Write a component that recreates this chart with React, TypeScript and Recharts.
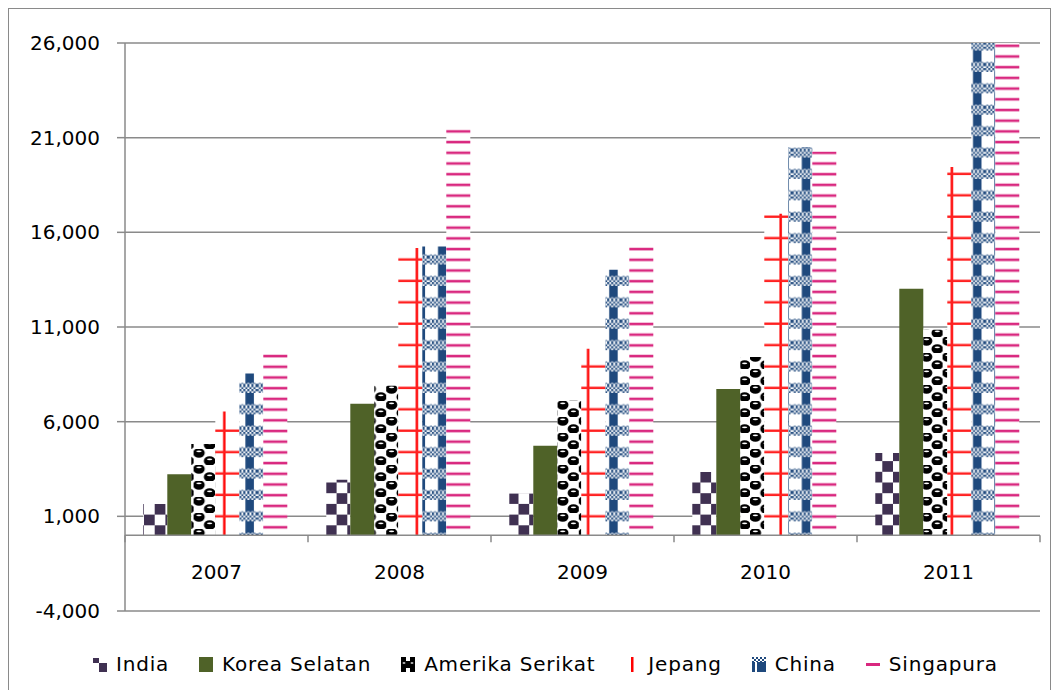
import React from 'react'
import { BarChart, Bar, XAxis, YAxis, CartesianGrid, ReferenceLine } from 'recharts'

// values
const years = ['2007', '2008', '2009', '2010', '2011']
const india = [1650, 2930, 2200, 3340, 4350]
const koreaSelatan = [3220, 6950, 4730, 7730, 13020]
const amerikaSerikat = [4820, 7900, 7100, 9420, 10860]
const jepang = [6540, 15170, 9850, 16980, 19450]
const china = [8550, 15250, 14020, 20500, 26000]
const singapura = [9590, 21450, 15310, 20270, 26000]
const yTicks = [-4000, 1000, 6000, 11000, 16000, 21000, 26000]

const seriesNames = ['India', 'Korea Selatan', 'Amerika Serikat', 'Jepang', 'China', 'Singapura']
const seriesValues = [india, koreaSelatan, amerikaSerikat, jepang, china, singapura]
const seriesFills = ['url(#pIndia)', '#4F6228', 'url(#pAmerika)', 'url(#pJepang)', 'url(#pChina)', 'url(#pSing)']

const data = years.map((year, i) => {
  const row: Record<string, string | number> = { year }
  seriesNames.forEach((name, s) => {
    row[name] = seriesValues[s][i]
  })
  return row
})

const W = 1060
const H = 698
const TOP = 43
const PLOT_H = 568
const PLOT_W = 915
const Y_MIN = -4000
const Y_MAX = 26000
const zeroY = TOP + (PLOT_H * Y_MAX) / (Y_MAX - Y_MIN)
const GRID = '#8a8a8a'
const FONT = "'DejaVu Sans', sans-serif"

// pattern tile sizes
const T = 21.4
const HT = 10.7

function Patterns() {
  return (
    <svg width={0} height={0} style={{ position: 'absolute' }}>
      <defs>
        <pattern id="pIndia" patternUnits="userSpaceOnUse" x={4.9} y={1} width={T} height={T}>
          <rect width={T} height={T} fill="#fff" />
          <rect x={HT} y={0} width={HT} height={HT} fill="#403152" />
          <rect x={0} y={HT} width={HT} height={HT} fill="#403152" />
        </pattern>
        <pattern id="pAmerika" patternUnits="userSpaceOnUse" x={1} y={1} width={T} height={16}>
          <rect width={T} height={16} fill="#fff" />
          <ellipse cx={5.35} cy={4} rx={5.8} ry={4.8} fill="#000" />
          <ellipse cx={16.05} cy={12} rx={5.8} ry={4.8} fill="#000" />
          <ellipse cx={5.35} cy={2.3} rx={2.6} ry={0.9} fill="#fff" />
          <ellipse cx={16.05} cy={10.3} rx={2.6} ry={0.9} fill="#fff" />
        </pattern>
        <pattern id="pJepang" patternUnits="userSpaceOnUse" x={0} y={0} width={T} height={T}>
          <rect width={T} height={T} fill="#fff" />
          <rect x={9.1} y={0} width={2.4} height={T} fill="#ff0000" />
          <rect x={0} y={1.5} width={T} height={2.4} fill="#ff2020" />
        </pattern>
        <pattern id="pDither" patternUnits="userSpaceOnUse" width={4} height={4}>
          <rect width={4} height={4} fill="#fff" />
          <rect x={0} y={0} width={2} height={2} fill="#1F497D" />
          <rect x={2} y={2} width={2} height={2} fill="#1F497D" />
        </pattern>
        <pattern id="pChina" patternUnits="userSpaceOnUse" x={0} y={0} width={T} height={T}>
          <rect width={T} height={T} fill="#fff" />
          <rect x={10} y={0} width={8.5} height={T} fill="#1F497D" />
          <rect x={0} y={0} width={T} height={7.7} fill="url(#pDither)" />
          <rect x={0} y={T - 2.3} width={T} height={2.3} fill="url(#pDither)" />
        </pattern>
        <pattern id="pSing" patternUnits="userSpaceOnUse" x={0} y={0} width={T} height={HT}>
          <rect width={T} height={HT} fill="#fff" />
          <rect x={0} y={1.7} width={T} height={2.6} fill="#D9287F" />
        </pattern>
      </defs>
    </svg>
  )
}

function YearTick(props: any) {
  const { x, payload, index } = props
  const band = PLOT_W / years.length
  const left = x - band / 2
  return (
    <g>
      <line x1={left} x2={left} y1={zeroY} y2={zeroY + 7} stroke={GRID} strokeWidth={1.5} />
      {index === years.length - 1 && (
        <line x1={left + band} x2={left + band} y1={zeroY} y2={zeroY + 7} stroke={GRID} strokeWidth={1.5} />
      )}
      <text x={x} y={zeroY + 37} textAnchor="middle" dominantBaseline="central" fontSize={20} fill="#000">
        {payload.value}
      </text>
    </g>
  )
}

function Marker({ index }: { index: number }) {
  const s = 15
  if (index === 0)
    return (
      <svg width={s} height={s}>
        <rect x={0} y={1} width={6} height={5} fill="#403152" />
        <rect x={6} y={6} width={8} height={9} fill="#403152" />
      </svg>
    )
  if (index === 1)
    return (
      <svg width={s} height={s}>
        <rect x={0} y={0} width={14} height={15} fill="#4F6228" />
      </svg>
    )
  if (index === 2)
    return (
      <svg width={s} height={s}>
        <rect x={0} y={0} width={14} height={15} fill="#000" />
        <rect x={5} y={0} width={4} height={4} fill="#fff" />
        <rect x={5} y={11} width={4} height={4} fill="#fff" />
        <ellipse cx={3} cy={6} rx={1.5} ry={0.8} fill="#fff" />
        <ellipse cx={11} cy={6} rx={1.5} ry={0.8} fill="#fff" />
      </svg>
    )
  if (index === 3)
    return (
      <svg width={s} height={s}>
        <rect x={6} y={0} width={2.5} height={15} fill="#ff0000" />
      </svg>
    )
  if (index === 4)
    return (
      <svg width={s} height={s}>
        <rect x={0} y={0} width={14} height={15} fill="#1F497D" />
        <rect x={0} y={0} width={14} height={5} fill="url(#pDither)" />
        <rect x={3} y={5} width={2} height={10} fill="#fff" />
      </svg>
    )
  return (
    <svg width={s} height={s}>
      <rect x={0} y={6} width={14} height={3} fill="#D9287F" />
    </svg>
  )
}

export default function App() {
  return (
    <div style={{ position: 'relative', width: W, height: H, margin: -8, fontFamily: FONT, background: '#fff' }}>
      <Patterns />
      <div
        style={{
          position: 'absolute',
          left: 8,
          top: 8,
          width: 1043,
          height: 683,
          border: `1.5px solid ${GRID}`,
          boxSizing: 'border-box',
        }}
      />
      <div style={{ position: 'absolute', left: 0, top: 0 }}>
        <BarChart
          width={W}
          height={H}
          data={data}
          margin={{ top: TOP, right: 20, bottom: 57, left: 0 }}
          barCategoryGap="10%"
          barGap={0}
          style={{ fontFamily: FONT }}
        >
          <CartesianGrid vertical={false} stroke={GRID} strokeWidth={1.5} />
          <XAxis dataKey="year" height={30} axisLine={false} tickLine={false} tick={<YearTick />} interval={0} />
          <YAxis
            width={125}
            domain={[Y_MIN, Y_MAX]}
            ticks={yTicks}
            interval={0}
            allowDataOverflow
            stroke={GRID}
            axisLine={{ stroke: GRID, strokeWidth: 1.5 }}
            tickLine={{ stroke: GRID, strokeWidth: 1.5 }}
            tickSize={8}
            tickMargin={17}
            tick={{ fill: '#000', fontSize: 20 }}
            tickFormatter={(v: number) => v.toLocaleString('en-US')}
          />
          {seriesNames.map((name, s) => (
            <Bar key={name} dataKey={name} name={name} fill={seriesFills[s]} isAnimationActive={false} />
          ))}
          <ReferenceLine y={0} stroke={GRID} strokeWidth={1.5} />
        </BarChart>
      </div>
      <div
        style={{
          position: 'absolute',
          left: 93,
          top: 652,
          display: 'flex',
          alignItems: 'center',
          gap: 30,
          fontSize: 20,
          letterSpacing: 0.8,
          lineHeight: '24px',
          color: '#000',
        }}
      >
        {seriesNames.map((name, i) => (
          <div key={name} style={{ display: 'flex', alignItems: 'center' }}>
            <Marker index={i} />
            <span style={{ marginLeft: 8 }}>{name}</span>
          </div>
        ))}
      </div>
    </div>
  )
}
